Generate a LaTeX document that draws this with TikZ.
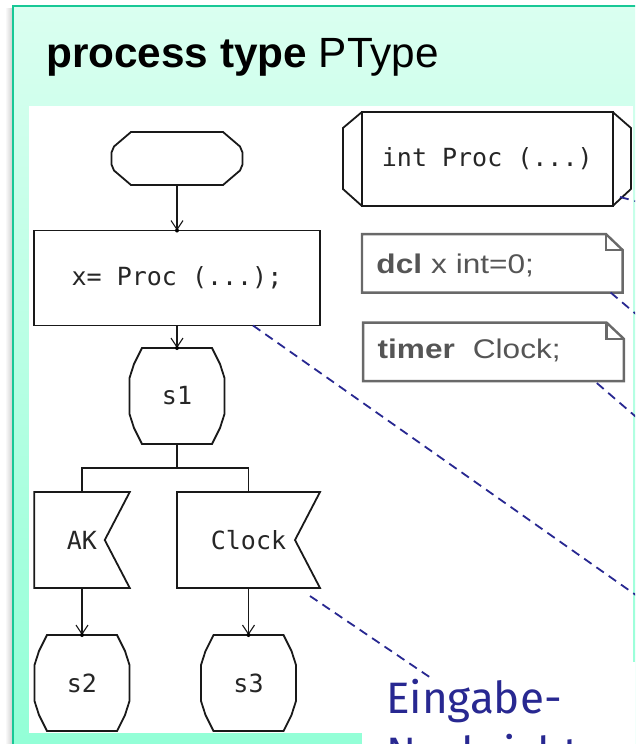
\documentclass[tikz,border=0pt]{standalone}
\usepackage{fontspec}
\setmainfont{Liberation Sans}
\newfontfamily\sdlmono{DejaVu Sans Mono}
\newfontfamily\notefont[FakeStretch=1.17]{Liberation Sans}
\newfontfamily\handfont{Fira Sans}
\usetikzlibrary{arrows.meta,calc}

\definecolor{mintTop}{RGB}{218,255,240}
\definecolor{mintBot}{RGB}{145,255,214}
\definecolor{panelEdge}{RGB}{24,200,150}
\definecolor{navy}{RGB}{40,40,145}
\definecolor{noteGray}{RGB}{105,105,105}
\definecolor{noteText}{RGB}{85,85,85}

% outlines drawn around the (invisible) SDL nodes
\newcommand\stateoutline[1]{%
  \draw[sdl] ([shift={(-35,-48)}]#1.center) -- ([shift={(35,-48)}]#1.center)
    -- ([shift={(43,-32)}]#1.center) -- ([shift={(47.5,-18)}]#1.center)
    -- ([shift={(47.5,18)}]#1.center) -- ([shift={(43,32)}]#1.center)
    -- ([shift={(35,48)}]#1.center) -- ([shift={(-35,48)}]#1.center)
    -- ([shift={(-43,32)}]#1.center) -- ([shift={(-47.5,18)}]#1.center)
    -- ([shift={(-47.5,-18)}]#1.center) -- ([shift={(-43,-32)}]#1.center) -- cycle;}
\newcommand\inputoutline[1]{%
  \draw[sdl] (#1.north west) -- (#1.north east) -- ([xshift=-25pt]#1.east)
    -- (#1.south east) -- (#1.south west) -- cycle;}
\newcommand\noteoutline[3]{%
  \draw[noteline] (#1.north west) -- ([xshift=-#2pt]#1.north east)
    -- ([yshift=-#3pt]#1.north east) -- (#1.south east) -- (#1.south west) -- cycle;
  \draw[noteline] ([xshift=-#2pt]#1.north east) |- ([yshift=-#3pt]#1.north east);}

\begin{document}
\begin{tikzpicture}[x=1pt,y=-1pt,
  sdl/.style={draw=black!90, line width=1.8pt, line join=miter},
  flow/.style={sdl, -{Straight Barb[length=9pt,width=12pt,line width=1.1pt]}},
  tipdot/.style={fill=black},
  sdlnode/.style={shape=rectangle, draw=none, inner sep=0pt, outer sep=0pt,
    text=black!85, font=\fontsize{25}{29}\sdlmono},
  statenode/.style={sdlnode, minimum width=95pt, minimum height=96pt},
  inputnode/.style={sdlnode, minimum width=95.5pt, minimum height=96pt},
  notenode/.style={shape=rectangle, draw=none, outer sep=0pt, inner xsep=14.5pt,
    inner ysep=0pt, text width=231.7pt, align=left, minimum height=58.5pt,
    text=noteText, font=\fontsize{27}{32}\notefont},
  noteline/.style={draw=noteGray, line width=2.4pt, line join=miter},
  notelink/.style={draw=navy, line width=1.8pt, dash pattern=on 9pt off 6pt}]

\useasboundingbox (0,0) rectangle (635,744);
\clip (0,0) rectangle (635,744);
\fill[white] (0,0) rectangle (635,744);

% slide panel with its shadow and border
\shade[left color=white, right color=black!18] (5,8) rectangle (12,760);
\shade[top color=mintTop, bottom color=mintBot] (13,6) rectangle (650,760);
\draw[panelEdge, line width=2.2pt] (13,760) -- (13,6);
\draw[panelEdge, line width=1.4pt] (12,6) -- (650,6);

% white diagram area and the white box of the annotation
\fill[white] (29,106) rectangle (633,733);
\fill[white] (362,662) rectangle (650,760);

\node[anchor=base west, inner sep=0pt, font=\fontsize{42.3}{48}\selectfont]
  (title) at (46,67) {\textbf{process type} PType};

% SDL process graph
\node[sdlnode, minimum width=131pt, minimum height=53pt] (start) at (177,158.5) {};
\draw[sdl] ([shift={(-46,-26.5)}]start.center) -- ([shift={(46,-26.5)}]start.center)
  -- ([shift={(63,-12)}]start.center) -- ([shift={(65.5,-6)}]start.center)
  -- ([shift={(65.5,6)}]start.center) -- ([shift={(63,12)}]start.center)
  -- ([shift={(46,26.5)}]start.center) -- ([shift={(-46,26.5)}]start.center)
  -- ([shift={(-63,12)}]start.center) -- ([shift={(-65.5,6)}]start.center)
  -- ([shift={(-65.5,-6)}]start.center) -- ([shift={(-63,-12)}]start.center) -- cycle;

\node[sdlnode, minimum width=286pt, minimum height=95pt] (task) at (177,278) {x= Proc (...);};
\draw[sdl] (task.north west) rectangle (task.south east);

\node[statenode] (s1) at (177,396) {s1};
\stateoutline{s1}

\node[inputnode] (ak) at (82,540) {AK};
\inputoutline{ak}
\node[inputnode, minimum width=143pt] (clk) at (248.5,540) {Clock};
\inputoutline{clk}

\node[statenode] (s2) at (82,683) {s2};
\stateoutline{s2}
\node[statenode] (s3) at (248.5,683) {s3};
\stateoutline{s3}

\coordinate (fork) at (177,468);
\draw[flow] (start.south) -- (task.north);
\draw[flow] (task.south) -- (s1.north);
\draw[sdl] (s1.south) -- (fork);
\draw[sdl] (ak.north) |- (fork) -| (clk.north);
\draw[flow] (ak.south) -- (s2.north);
\draw[flow] (clk.south) -- (s3.north);
\foreach \n in {task,s1,s2,s3} \fill[tipdot] (\n.north) circle (2pt);

% procedure reference
\node[sdlnode, minimum width=250.7pt, minimum height=94pt] (proc) at (487.3,159) {int Proc (...)};
\draw[sdl] (proc.north west) rectangle (proc.south east);
\draw[sdl] (proc.north west) -- ([shift={(-19,16)}]proc.north west)
  -- ([shift={(-19,-17)}]proc.south west) -- (proc.south west);
\draw[sdl] (proc.north east) -- ([shift={(18.3,16)}]proc.north east)
  -- ([shift={(18.3,-17)}]proc.south east) -- (proc.south east);

% text symbols
\node[notenode, text height=19.5pt, text depth=0pt] (dcl) at (492.3,263.3)
  {\textbf{dcl} x int=0;};
\noteoutline{dcl}{16.7}{16}
\node[notenode, text height=19.5pt, text depth=6.5pt] (tmr) at (493.5,351.8)
  {\textbf{timer}\ \ Clock;};
\noteoutline{tmr}{17.3}{16.3}

% annotation and its dashed links
\node[anchor=base west, inner sep=0pt, align=left, text=navy,
  font=\fontsize{44}{55}\handfont] (msg) at (386,768) {Eingabe-\\Nachricht};
\coordinate (d1) at (650,205);
\coordinate (d2) at (650,326);
\coordinate (d3) at (650,429);
\coordinate (d4) at (650,605);
\coordinate (d5) at (431,678);
\draw[notelink] ([shift={(7.3,-9)}]proc.south east) -- (d1);
\draw[notelink] ([xshift=-12pt]dcl.south east) -- (d2);
\draw[notelink] ([shift={(-27,2)}]tmr.south east) -- (d3);
\draw[notelink] ([xshift=76pt]task.south) -- (d4);
\draw[notelink] ([shift={(-10,8)}]clk.south east) -- (d5);
\end{tikzpicture}
\end{document}
